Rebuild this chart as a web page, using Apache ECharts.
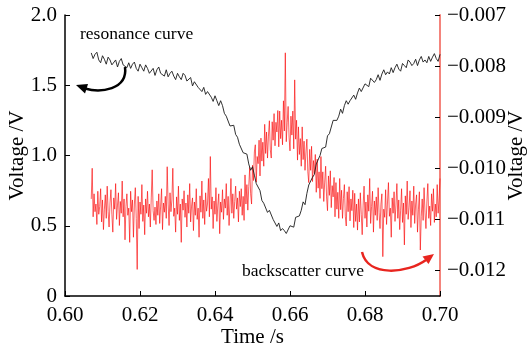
<!DOCTYPE html>
<html>
<head>
<meta charset="utf-8">
<script src="https://cdn.jsdelivr.net/npm/echarts@6/dist/echarts.min.js"></script>
<style>
html,body{margin:0;padding:0;background:#fff;}
#c{width:527px;height:356px;}
</style>
</head>
<body>
<div id="c"></div>
<script>
// ---- data ----
// x tick labels
const xTicks = [0.60, 0.62, 0.64, 0.66, 0.68, 0.70];
const leftTicks = [0, 0.5, 1.0, 1.5, 2.0];
const rightTicks = [-0.012, -0.011, -0.010, -0.009, -0.008, -0.007];

// resonance curve (left axis), sampled every 0.5 ms from 0.607 s, values in units of 0.01 V
const resonanceT0 = 0.607, resonanceDt = 0.0005;
const resonance_cV = [
173,169,172,173.5,168,166,171,168.5,165,170,
168,164.5,165,168,163,167,169,164.5,165,162.5,
166,162,165,166.5,162,160,165,162.5,160,164.5,
162,158.5,159,162,157,161,163,158.5,159,156.5,
161,156,158.5,160,156.5,154,158.5,156,154,158.5,
157,153,153.5,155.5,149.5,152.5,153.5,148.5,148.5,145.5,
148.5,143.5,145.5,146.5,141.5,138.5,142.5,139,135.5,139,
135.5,130,128,128.5,121,122,121.5,115,113,108,
109,102,102,101,94,89.5,92,86,80,81,
75,68,66,67,59.5,61,60.5,54.5,53.5,49.5,
52,46.5,48,46.5,44.5,44.5,50,49.5,49,56,
57,57,61,67,65,73,79,79,84.5,86.5,
94,93.5,100,105,104.5,106,114,115.5,116.5,125,
126,125,128,133,130,135.5,139,136.5,139,138,
143,140,144.5,148,145.5,144.5,151,150,149,155,
154,152,154,157.5,153.5,158,161,157.5,159.5,158,
162.5,159,162.5,165,161.5,160,165.5,164,162.5,168,
166.5,164,165.5,168.5,164,168,170.5,166.5,168,166,
170.5,167,170,172.5,169,167,172
];

// backscatter curve (right axis), sampled every 0.25 ms from 0.607 s, values in units of 1e-5 V
const backscatterT0 = 0.607, backscatterDt = 0.00025;
const backscatter_1e5V = [
-1060,-1000,-1095,-1050,-1085,-1070,-1110,-1045,-1090,-1075,-1040,-1105,-1062,-1120,-1080,-1052,-1098,-1035,-1085,-1115,
-1068,-1042,-1090,-1125,-1058,-1080,-1030,-1100,-1072,-1048,-1112,-1065,-1088,-1025,-1095,-1060,-1140,-1075,-1050,-1092,
-1078,-1145,-1045,-1085,-1062,-1135,-1070,-1038,-1098,-1198,-1055,-1118,-1066,-1090,-1032,-1104,-1072,-1130,-1060,-1088,
-1045,-1095,-1070,-1115,-1058,-1003,-1083,-1102,-1076,-1110,-1064,-1092,-1050,-1108,-1074,-1040,-1120,-1068,-1086,-1055,
-1098,-997,-1070,-1112,-1048,-1085,-1062,-1000,-1094,-1078,-1125,-1056,-1090,-1035,-1102,-1070,-1145,-1060,-1082,-1044,
-1096,-1068,-1115,-1052,-1088,-1030,-1105,-1074,-1058,-1122,-1066,-1092,-1040,-1100,-1078,-1135,-1054,-1086,-1025,-1098,
-1062,-1110,-1048,-1084,-1070,-1020,-1095,-977,-1080,-1056,-1118,-1064,-1090,-1038,-1104,-1072,-1050,-1128,-1066,-1086,
-1042,-1100,-1060,-1078,-1030,-1092,-1055,-1112,-1070,-1020,-1088,-1050,-1098,-1065,-1035,-1080,-1058,-1105,-1045,-1075,
-1040,-1092,-1055,-1102,-1013,-1070,-1032,-1082,-1036,-998,-1050,-1070,-994,-1024,-968,-954,-1027,-977,-991,-945,
-1015,-941,-986,-949,-996,-914,-971,-929,-980,-937,-907,-964,-980,-909,-945,-893,-956,-910,-929,-887,
-958,-888,-942,-906,-954,-868,-927,-774,-948,-910,-879,-939,-966,-898,-935,-888,-962,-827,-943,-906,
-984,-919,-973,-942,-996,-919,-983,-947,-1004,-968,-943,-1007,-1028,-963,-1004,-957,-1026,-985,-1010,-973,
-1047,-982,-1039,-1007,-1059,-977,-1040,-1007,-1065,-1027,-996,-1056,-1083,-1015,-1053,-1005,-1077,-1034,-1056,-1018,
-1095,-1028,-1080,-1047,-1098,-1020,-1081,-1043,-1098,-1059,-1032,-1094,-1113,-1046,-1085,-1036,-1103,-1060,-1083,-1043,
-1116,-1049,-1104,-1070,-1121,
-1060,-1105,-1048,-1090,-1130,-1072,-1035,-1098,-1066,-1115,-1052,-1084,-1020,-1108,-1075,-1045,-1125,-1064,-1092,-1056,
-1102,-1038,-1086,-1118,-1070,-1050,-1173,-1080,-1096,-1042,-1110,-1066,-1028,-1094,-1078,-1135,-1058,-1088,-1046,-1104,
-1072,-1030,-1098,-1062,-1120,-1082,-1040,-1106,-1068,-1150,-1054,-1090,-1025,-1100,-1076,-1044,-1116,-1064,-1092,-1035,
-1108,-1070,-1052,-1125,-1080,-1046,-1160,-1094,-1060,-1102,-1038,-1086,-1118,-1066,-1030,-1098,-1074,-1112,-1050,-1084,
-1040,-1106,-1070,-1095,-1032,-1088,-1060,-1020
];

const seriesNames = ['resonance curve', 'backscatter curve'];

// ---- build ----
const FONT = "'Liberation Serif','Times New Roman',serif";
const resonanceData = resonance_cV.map((v, i) => [resonanceT0 + i * resonanceDt, v / 100]);
const backscatterData = backscatter_1e5V.map((v, i) => [backscatterT0 + i * backscatterDt, v / 1e5]);

const chart = echarts.init(document.getElementById('c'), null, {renderer: 'canvas'});
chart.setOption({
  animation: false,
  backgroundColor: '#fff',
  grid: {left: 65, right: 87, top: 15, bottom: 60, containLabel: false, outerBoundsMode: 'none'},
  xAxis: {
    type: 'value', min: xTicks[0], max: xTicks[xTicks.length - 1], interval: 0.02,
    axisLine: {show: true, lineStyle: {color: '#000', width: 1.5}},
    axisTick: {show: true, inside: true, length: 5, lineStyle: {color: '#000', width: 1}},
    axisLabel: {formatter: v => v.toFixed(2), fontFamily: FONT, fontSize: 21, color: '#000', margin: 9},
    splitLine: {show: false},
    name: 'Time /s', nameLocation: 'middle', nameGap: 31, nameMoveOverlap: false,
    nameTextStyle: {fontFamily: FONT, fontSize: 21, color: '#000'}
  },
  yAxis: [{
    type: 'value', position: 'left', min: leftTicks[0], max: leftTicks[leftTicks.length - 1], interval: 0.5,
    axisLine: {show: true, lineStyle: {color: '#000', width: 1.5}},
    axisTick: {show: true, inside: true, length: 5, lineStyle: {color: '#000', width: 1}},
    axisLabel: {formatter: v => (v === 0 ? '0' : v.toFixed(1)), fontFamily: FONT, fontSize: 21, color: '#000', margin: 8},
    splitLine: {show: false},
    name: 'Voltage /V', nameLocation: 'middle', nameGap: 37, nameRotate: 90, nameMoveOverlap: false,
    nameTextStyle: {fontFamily: FONT, fontSize: 21, color: '#000'}
  }, {
    type: 'value', position: 'right', min: -0.0125, max: rightTicks[rightTicks.length - 1],
    axisLine: {show: true, lineStyle: {color: '#f4847c', width: 2}},
    axisTick: {show: true, inside: true, length: 5, customValues: rightTicks, lineStyle: {color: '#000', width: 1}},
    axisLabel: {customValues: rightTicks, formatter: v => '\u2212' + Math.abs(v).toFixed(3), fontFamily: FONT, fontSize: 21, color: '#000', margin: 7},
    splitLine: {show: false},
    name: 'Voltage /V', nameLocation: 'middle', nameGap: 66, nameRotate: 90, nameMoveOverlap: false,
    nameTextStyle: {fontFamily: FONT, fontSize: 21, color: '#000'}
  }],
  series: [{
    name: seriesNames[1], type: 'line', yAxisIndex: 1, data: backscatterData,
    showSymbol: false, symbol: 'none', z: 2,
    lineStyle: {color: 'rgba(250,10,10,0.65)', width: 1}
  }, {
    name: seriesNames[0], type: 'line', yAxisIndex: 0, data: resonanceData,
    showSymbol: false, symbol: 'none', z: 3,
    lineStyle: {color: '#1a1a1a', width: 0.9}
  }],
  graphic: [
    {type: 'text', left: 80, top: 25, z: 10,
     style: {text: seriesNames[0], font: "17.5px 'Liberation Serif','Times New Roman',serif", fill: '#000'}},
    {type: 'text', left: 242, top: 262, z: 10,
     style: {text: seriesNames[1], font: "17.5px 'Liberation Serif','Times New Roman',serif", fill: '#000'}},
    {type: 'bezierCurve', z: 10,
     shape: {x1: 125, y1: 67, cpx1: 128, cpy1: 90, cpx2: 100, cpy2: 93, x2: 85, y2: 88.5},
     style: {stroke: '#000', lineWidth: 2.5, fill: null}},
    {type: 'polygon', z: 10,
     shape: {points: [[76, 85], [88, 84], [85, 93.5]]},
     style: {fill: '#000'}},
    {type: 'bezierCurve', z: 10,
     shape: {x1: 362, y1: 252, cpx1: 368, cpy1: 278, cpx2: 408, cpy2: 273, x2: 426, y2: 260},
     style: {stroke: '#e8251f', lineWidth: 2.5, fill: null}},
    {type: 'polygon', z: 10,
     shape: {points: [[434, 254], [422.5, 256.5], [428.5, 264]]},
     style: {fill: '#e8251f'}}
  ]
});
</script>
</body>
</html>
